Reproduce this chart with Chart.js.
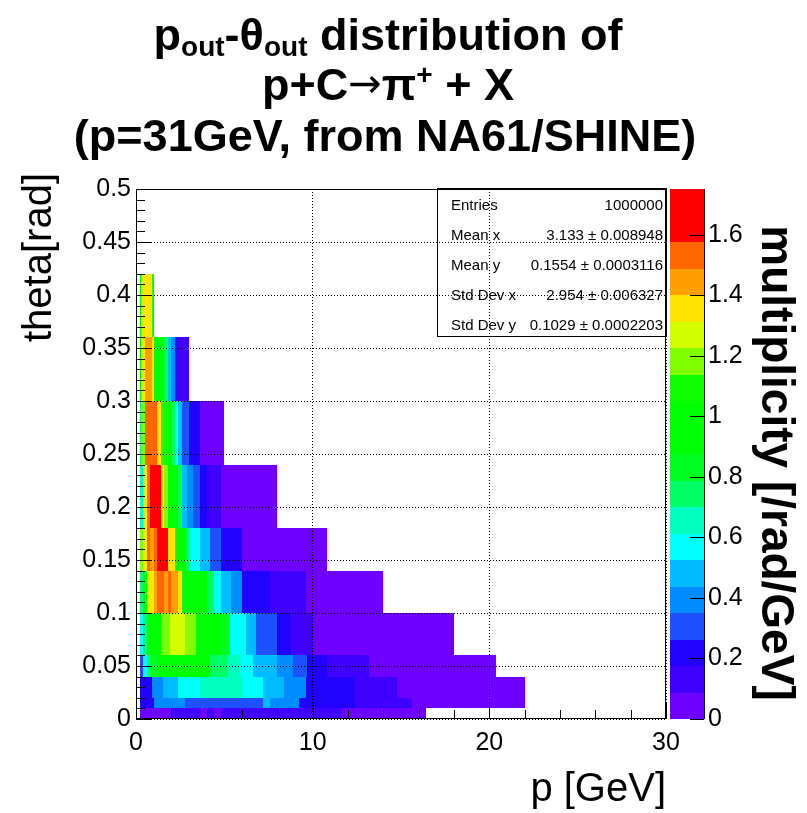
<!DOCTYPE html>
<html>
<head>
<meta charset="utf-8">
<script src="https://cdn.jsdelivr.net/npm/chart.js@4.4.1/dist/chart.umd.min.js"></script>
<style>
  html, body { margin: 0; padding: 0; background: #fff; }
  #wrap { width: 807px; height: 813px; position: relative; }
</style>
</head>
<body>
<div id="wrap"><canvas id="c"></canvas></div>
<script>
// theta bin edges [rad]
const thetaEdges = [0, 0.01, 0.02, 0.04, 0.06, 0.1, 0.14, 0.18, 0.24, 0.3, 0.36, 0.42];

// momentum bin edges [GeV] and multiplicity [/rad/GeV], one pair per theta bin
const p_0_10 = [0.2, 2.0, 3.6, 4.0, 4.4, 4.8, 11.6, 16.4];
const m_0_10 = [0.04, 0.13, 0.04, 0.13, 0.04, 0.13, 0.04];
const p_10_20 = [0.2, 1.0, 2.8, 7.2, 7.6, 9.2, 12.4, 15.6, 22.0];
const m_10_20 = [0.22, 0.39, 0.31, 0.48, 0.39, 0.22, 0.13, 0.04];
const p_20_40 = [0.2, 0.9, 1.5, 2.4, 3.6, 6.0, 7.2, 8.4, 9.6, 12.4, 14.8, 22.0];
const m_20_40 = [0.22, 0.39, 0.48, 0.57, 0.66, 0.57, 0.48, 0.39, 0.22, 0.13, 0.04];
const p_40_60 = [0.2, 0.4, 0.6, 0.8, 1.2, 1.8, 4.2, 5.2, 5.9, 6.6, 8.0, 8.9, 9.7, 10.8, 13.2, 20.4];
const m_40_60 = [0.31, 0.57, 0.74, 0.83, 0.92, 1.01, 0.74, 0.66, 0.57, 0.48, 0.39, 0.31, 0.22, 0.13, 0.04];
const p_60_100 = [0.2, 0.4, 0.6, 1.4, 1.9, 2.8, 3.4, 4.8, 5.3, 6.2, 6.8, 8.0, 8.8, 10.0, 18.0];
const m_60_100 = [0.57, 0.74, 0.92, 1.18, 1.27, 1.18, 1.01, 0.83, 0.57, 0.48, 0.31, 0.22, 0.13, 0.04];
const p_100_140 = [0.2, 0.4, 0.6, 1.0, 1.2, 1.6, 1.8, 2.0, 2.4, 2.6, 4.0, 4.4, 4.8, 5.4, 6.0, 7.6, 9.6, 14.0];
const m_100_140 = [0.74, 1.09, 1.36, 1.45, 1.53, 1.45, 1.53, 1.45, 1.36, 1.01, 0.74, 0.57, 0.48, 0.39, 0.22, 0.13, 0.04];
const p_140_180 = [0.2, 0.4, 0.6, 0.8, 1.0, 1.2, 1.8, 2.2, 2.8, 3.0, 3.6, 4.2, 4.8, 6.0, 10.8];
const m_140_180 = [1.18, 1.36, 1.53, 1.45, 1.53, 1.71, 1.36, 1.01, 0.74, 0.57, 0.48, 0.31, 0.22, 0.04];
const p_180_240 = [0.2, 0.4, 0.6, 0.8, 1.4, 1.6, 1.8, 2.4, 2.6, 2.9, 3.2, 3.6, 4.0, 4.8, 8.0];
const m_180_240 = [0.66, 1.36, 1.53, 1.71, 1.36, 1.18, 1.01, 0.74, 0.48, 0.39, 0.31, 0.22, 0.13, 0.04];
const p_240_300 = [0.2, 0.3, 0.5, 1.2, 1.4, 1.8, 2.0, 2.2, 2.4, 2.6, 3.0, 3.6, 5.0];
const m_240_300 = [0.74, 1.18, 1.53, 1.36, 1.09, 0.92, 0.74, 0.57, 0.48, 0.31, 0.22, 0.04];
const p_300_360 = [0.2, 0.3, 0.5, 0.9, 1.0, 1.6, 1.8, 2.0, 2.2, 3.0];
const m_300_360 = [0.92, 1.36, 1.45, 1.36, 0.92, 0.74, 0.48, 0.39, 0.13];
const p_360_420 = [0.2, 0.3, 0.9, 1.0];
const m_360_420 = [0.92, 1.36, 1.09];

const pRows = [p_0_10, p_10_20, p_20_40, p_40_60, p_60_100, p_100_140, p_140_180, p_180_240, p_240_300, p_300_360, p_360_420];
const mRows = [m_0_10, m_10_20, m_20_40, m_40_60, m_60_100, m_100_140, m_140_180, m_180_240, m_240_300, m_300_360, m_360_420];

const zMax = 1.752;
const nContours = 20;
const zTickValues = [0, 0.2, 0.4, 0.6, 0.8, 1, 1.2, 1.4, 1.6];

const statsLabels = ['Entries', 'Mean x', 'Mean y', 'Std Dev x', 'Std Dev y'];
const statsValues = ['1000000', '3.133 \u00b1 0.008948', '0.1554 \u00b1 0.0003116', '2.954 \u00b1 0.006327', '0.1029 \u00b1 0.0002203'];

// contour colours, violet -> red, as seen on the reference colour bar
const palette = [
  '#6e00ff', '#4000ff', '#2000ff', '#1e50ff', '#008cff',
  '#00bbff', '#00ffff', '#00ffc0', '#00ff66', '#00ff20',
  '#00ff00', '#00ff00', '#10ff00', '#80ff00', '#d4ff00',
  '#ffe600', '#ffa000', '#ff6600', '#ff0000', '#ff0000'
];
function colorFor(v) {
  let k = Math.floor(v / (zMax / nContours));
  k = Math.max(0, Math.min(nContours - 1, k));
  return palette[k];
}

const FONT = "'Liberation Sans', Arial, Helvetica, sans-serif";
Chart.defaults.font.family = FONT;
Chart.defaults.color = '#000';

function drawRich(ctx, parts, cx, y) {
  let total = 0;
  parts.forEach(p => { ctx.font = p.font; p.w = ctx.measureText(p.t).width; total += p.w; });
  let x = cx - total / 2;
  parts.forEach(p => { ctx.font = p.font; ctx.fillText(p.t, x, y + (p.dy || 0)); x += p.w; });
}

const histPlugin = {
  id: 'hist2d',
  beforeDatasetsDraw(chart) {
    const {ctx, scales: {x, y, z}, chartArea: a} = chart;
    ctx.save();
    // cells
    pRows.forEach((edges, r) => {
      const y0 = Math.round(y.getPixelForValue(thetaEdges[r + 1]));
      const y1 = Math.round(y.getPixelForValue(thetaEdges[r]));
      mRows[r].forEach((v, j) => {
        const x0 = Math.round(x.getPixelForValue(edges[j]));
        const x1 = Math.round(x.getPixelForValue(edges[j + 1]));
        ctx.fillStyle = colorFor(v);
        ctx.fillRect(x0, y0, x1 - x0, y1 - y0);
      });
    });
    // colour bar
    const cbL = a.right + 4, cbR = a.right + 38;
    for (let k = 0; k < nContours; k++) {
      const t = Math.round(z.getPixelForValue((k + 1) * zMax / nContours));
      const b = Math.round(z.getPixelForValue(k * zMax / nContours));
      ctx.fillStyle = palette[k];
      ctx.fillRect(cbL, t, cbR - cbL, b - t);
    }
    ctx.restore();
  },
  afterDraw(chart) {
    const {ctx, scales: {x, y, z}, chartArea: a} = chart;
    ctx.save();
    ctx.strokeStyle = '#000';
    ctx.lineWidth = 1;
    // frame
    ctx.strokeRect(a.left + 0.5, a.top + 0.5, a.right - a.left - 1, a.bottom - a.top - 1);
    // inner ticks
    ctx.beginPath();
    for (let i = 0; i <= 50; i++) {
      const py = Math.round(y.getPixelForValue(i * 0.01)) + 0.5;
      const len = i % 5 === 0 ? 16 : 9;
      ctx.moveTo(a.left, py); ctx.lineTo(a.left + len, py);
    }
    for (let i = 0; i <= 15; i++) {
      const px = Math.round(x.getPixelForValue(i * 2)) + 0.5;
      const len = i % 5 === 0 ? 16 : 9;
      ctx.moveTo(px, a.bottom); ctx.lineTo(px, a.bottom - len);
    }
    // colour bar axis
    const cbR = a.right + 38;
    ctx.moveTo(cbR + 0.5, a.top); ctx.lineTo(cbR + 0.5, a.bottom);
    zTickValues.forEach(v => {
      const py = Math.round(z.getPixelForValue(v)) + 0.5;
      ctx.moveTo(cbR, py); ctx.lineTo(cbR - 14, py);
    });
    ctx.stroke();

    // stats box (transparent, grid shows through)
    const bx = a.right - 229, by = a.top - 1, bw = 229, bh = 148;
    ctx.strokeRect(bx + 0.5, by + 0.5, bw, bh);
    ctx.fillStyle = '#000';
    ctx.font = '15px ' + FONT;
    ctx.textBaseline = 'alphabetic';
    statsLabels.forEach((s, i) => {
      const yy = by + 22 + i * 30;
      ctx.textAlign = 'left';
      ctx.fillText(s, bx + 14, yy);
      ctx.textAlign = 'right';
      ctx.fillText(statsValues[i], bx + bw - 3, yy);
    });

    // axis titles (placed like ROOT does, slightly past the axis end)
    ctx.save();
    ctx.font = '40px ' + FONT;
    ctx.textAlign = 'right';
    ctx.translate(51, a.top - 16);
    ctx.rotate(-Math.PI / 2);
    ctx.fillText('theta[rad]', 0, 0);
    ctx.restore();

    ctx.save();
    ctx.font = 'bold 46px ' + FONT;
    ctx.textAlign = 'center';
    ctx.translate(cbR + 58, (a.top + a.bottom) / 2 + 9);
    ctx.rotate(Math.PI / 2);
    ctx.fillText('multiplicity [/rad/GeV]', 0, 0);
    ctx.restore();

    // title
    ctx.textAlign = 'left';
    const B = 'bold 45px ' + FONT, S = 'bold 28px ' + FONT;
    const cx = 388;
    drawRich(ctx, [
      {t: 'p', font: B}, {t: 'out', font: S, dy: 6}, {t: '-', font: B},
      {t: '\u03b8', font: B}, {t: 'out', font: S, dy: 6}, {t: ' distribution of', font: B}
    ], cx, 50);
    drawRich(ctx, [
      {t: 'p+C', font: B}, {t: '\u2192', font: "40px 'DejaVu Sans', sans-serif", dy: -3},
      {t: '\u03c0', font: B}, {t: '+', font: S, dy: -16}, {t: ' + X', font: B}
    ], cx, 100);
    drawRich(ctx, [{t: '(p=31GeV, from NA61/SHINE)', font: B}], cx - 3, 151);
    ctx.restore();
  }
};

new Chart(document.getElementById('c'), {
  type: 'scatter',
  data: { datasets: [{ data: [], pointRadius: 0 }] },
  options: {
    responsive: true,
    maintainAspectRatio: false,
    animation: false,
    layout: { padding: { top: 189, left: 0, right: 0, bottom: 0 } },
    plugins: { legend: { display: false }, tooltip: { enabled: false } },
    scales: {
      x: {
        type: 'linear', position: 'bottom', min: 0, max: 30,
        afterFit: s => { s.height = 94; },
        ticks: { stepSize: 10, padding: 9, font: { size: 25 }, maxRotation: 0, autoSkip: false },
        grid: { z: 1, color: '#000', lineWidth: 1, drawTicks: false },
        border: { display: false, dash: [1, 2] },
        title: { display: true, text: 'p [GeV]', align: 'end', font: { size: 40, lineHeight: 1 }, padding: { top: 0, bottom: 3 } }
      },
      y: {
        type: 'linear', position: 'left', min: 0, max: 0.5,
        afterFit: s => { s.width = 136; },
        ticks: { stepSize: 0.05, padding: 5, font: { size: 25 }, autoSkip: false,
                 callback: v => String(+v.toFixed(2)) },
        grid: { z: 1, color: '#000', lineWidth: 1, drawTicks: false },
        border: { display: false, dash: [1, 2] }
      },
      z: {
        type: 'linear', position: 'right', min: 0, max: zMax,
        afterFit: s => { s.width = 141; },
        afterBuildTicks: s => { s.ticks = zTickValues.map(v => ({ value: v })); },
        ticks: { padding: 42, font: { size: 25 }, autoSkip: false,
                 callback: v => String(+v.toFixed(1)) },
        grid: { display: false, drawTicks: false },
        border: { display: false }
      }
    }
  },
  plugins: [histPlugin]
});
</script>
</body>
</html>
